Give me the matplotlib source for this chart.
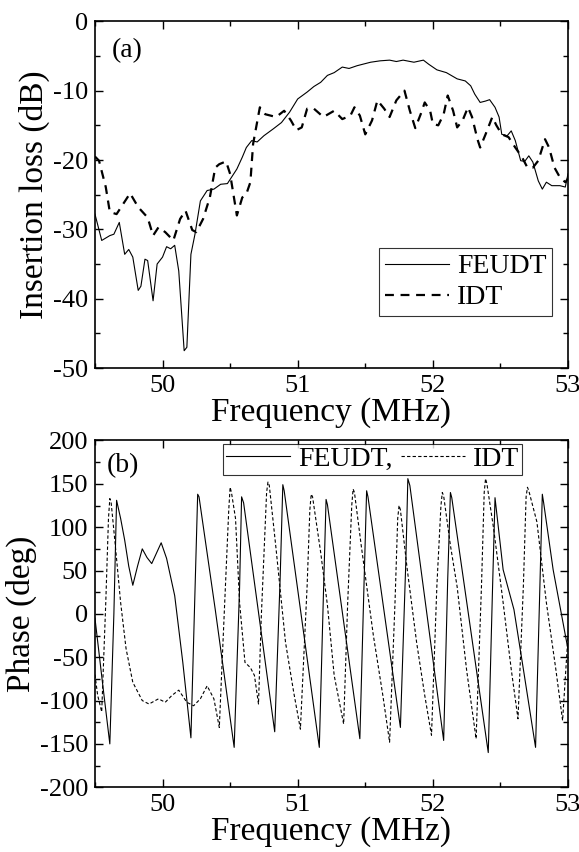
import matplotlib
matplotlib.use('Agg')
import matplotlib.pyplot as plt
from matplotlib import font_manager
from matplotlib.ticker import MultipleLocator

# pick a Times-like serif that is really installed
names = set(f.name for f in font_manager.fontManager.ttflist)
serif = 'DejaVu Serif'
for cand in ['Liberation Serif', 'Times New Roman', 'Nimbus Roman', 'TeX Gyre Termes', 'STIXGeneral']:
    if cand in names:
        serif = cand
        break
plt.rcParams['font.family'] = [serif, 'DejaVu Serif']
k = 0.86 if serif == 'DejaVu Serif' else 1.0

# (a) insertion loss, FEUDT (solid)
f_feudt = [49.5, 49.55, 49.61, 49.64, 49.68, 49.72, 49.75, 49.78, 49.82, 49.84, 49.87, 49.89,
           49.93, 49.96, 50.0, 50.03, 50.06, 50.09, 50.12, 50.16, 50.18, 50.21, 50.24, 50.28,
           50.33, 50.38, 50.43, 50.48, 50.51, 50.55, 50.59, 50.62, 50.66, 50.70, 50.75, 50.82,
           50.88, 50.94, 51.0, 51.07, 51.12, 51.17, 51.22, 51.27, 51.33, 51.38, 51.44, 51.54,
           51.61, 51.68, 51.73, 51.78, 51.86, 51.93, 51.97, 52.03, 52.10, 52.18, 52.24, 52.28,
           52.31, 52.35, 52.39, 52.42, 52.46, 52.49, 52.51, 52.55, 52.58, 52.61, 52.65, 52.68,
           52.71, 52.74, 52.78, 52.81, 52.84, 52.88, 52.94, 52.98, 53.0]
il_feudt = [-27.8, -31.6, -30.9, -30.7, -29.0, -33.6, -32.9, -34.0, -38.8, -38.2, -34.3, -34.5,
            -40.3, -35.0, -34.0, -32.5, -32.8, -32.3, -36.0, -47.5, -47.0, -33.6, -30.7, -25.9,
            -24.4, -24.2, -23.5, -23.4, -22.5, -21.3, -19.6, -18.2, -17.2, -17.4, -16.5, -15.5,
            -14.6, -13.1, -11.2, -10.2, -9.4, -8.8, -7.8, -7.4, -6.6, -6.8, -6.4, -5.9,
            -5.7, -5.6, -5.8, -5.6, -5.9, -5.6, -6.2, -7.0, -7.4, -8.3, -8.6, -9.3,
            -10.5, -11.7, -11.5, -11.3, -12.4, -13.8, -16.3, -16.5, -15.8, -17.2, -20.1, -20.2,
            -19.4, -20.3, -23.0, -24.2, -23.2, -23.7, -23.7, -23.9, -22.0]

# (a) insertion loss, IDT (dashed)
f_idt = [49.5, 49.53, 49.58, 49.61, 49.66, 49.71, 49.76, 49.82, 49.89, 49.93, 49.97, 50.02,
         50.08, 50.13, 50.17, 50.22, 50.25, 50.30, 50.35, 50.39, 50.42, 50.47, 50.50, 50.55,
         50.59, 50.62, 50.65, 50.67, 50.72, 50.76, 50.84, 50.90, 50.95, 50.99, 51.03, 51.07,
         51.12, 51.19, 51.27, 51.33, 51.39, 51.42, 51.46, 51.50, 51.55, 51.59, 51.64, 51.68,
         51.73, 51.79, 51.83, 51.87, 51.91, 51.94, 51.98, 52.0, 52.04, 52.08, 52.11, 52.15,
         52.18, 52.22, 52.26, 52.29, 52.33, 52.35, 52.39, 52.44, 52.47, 52.51, 52.56, 52.61,
         52.66, 52.70, 52.74, 52.78, 52.83, 52.86, 52.90, 52.94, 52.98, 53.0]
il_idt = [-19.5, -20.1, -23.9, -27.5, -27.8, -26.3, -24.8, -26.8, -28.3, -30.9, -29.7, -30.4,
          -31.6, -28.5, -27.3, -30.1, -30.4, -28.5, -25.4, -21.1, -20.6, -20.2, -22.0, -28.0,
          -25.4, -24.9, -23.2, -17.7, -12.4, -13.4, -13.8, -12.9, -14.3, -15.7, -15.3, -12.6,
          -12.6, -13.8, -12.9, -14.1, -13.6, -12.4, -13.6, -16.3, -14.3, -11.4, -12.6, -13.8,
          -11.4, -10.0, -12.9, -15.4, -13.4, -11.7, -12.9, -14.8, -15.0, -13.4, -10.7, -12.9,
          -15.3, -14.3, -12.4, -13.8, -17.0, -18.2, -16.3, -13.8, -15.0, -16.3, -16.7, -18.2,
          -19.6, -21.1, -21.1, -20.1, -17.0, -18.2, -21.1, -22.5, -23.2, -22.7]

# (b) phase, FEUDT (solid)
fp_feudt = [49.5, 49.56, 49.61, 49.64, 49.66, 49.69, 49.72, 49.75, 49.78, 49.815, 49.85, 49.885,
            49.92, 49.955, 49.99, 50.03, 50.09, 50.15, 50.21, 50.26, 50.27, 50.39, 50.53, 50.57,
            50.585, 50.60, 50.83, 50.87, 50.89, 50.90, 51.16, 51.19, 51.21, 51.22, 51.46, 51.49,
            51.51, 51.52, 51.76, 51.80, 51.815, 51.83, 52.08, 52.11, 52.13, 52.14, 52.41, 52.44,
            52.46, 52.47, 52.52, 52.60, 52.67, 52.76, 52.79, 52.81, 52.82, 52.89, 53.0]
ph_feudt = [-5, -85, -150, 0, 131, 110, 85, 55, 33, 55, 75, 65,
            58, 70, 82, 64, 21, -56, -143, 138, 135, 5, -154, 30,
            135, 128, -136, 40, 149, 142, -154, 20, 132, 126, -144, 30,
            142, 135, -131, 60, 156, 148, -146, 40, 140, 134, -160, 20,
            134, 120, 51, 5, -64, -154, 20, 138, 128, 51, -41]

# (b) phase, IDT (dashed)
fp_idt = [49.5, 49.52, 49.55, 49.58, 49.60, 49.61, 49.62, 49.65, 49.69, 49.73, 49.78, 49.85,
          49.90, 49.97, 50.02, 50.07, 50.12, 50.18, 50.23, 50.28, 50.33, 50.38, 50.42, 50.46,
          50.49, 50.50, 50.51, 50.54, 50.57, 50.61, 50.65, 50.68, 50.71, 50.73, 50.77, 50.78,
          50.79, 50.84, 50.91, 50.97, 51.02, 51.07, 51.09, 51.10, 51.11, 51.17, 51.22, 51.27,
          51.34, 51.37, 51.40, 51.41, 51.42, 51.47, 51.56, 51.63, 51.68, 51.72, 51.74, 51.75,
          51.76, 51.81, 51.88, 51.94, 51.99, 52.03, 52.06, 52.07, 52.08, 52.13, 52.18, 52.25,
          52.32, 52.36, 52.38, 52.39, 52.40, 52.45, 52.52, 52.58, 52.63, 52.67, 52.69, 52.70,
          52.71, 52.77, 52.84, 52.91, 52.96, 53.0]
ph_idt = [-70, -94, -113, 13, 110, 133, 128, 80, 13, -40, -79, -100,
          -104, -98, -102, -94, -88, -102, -106, -98, -83, -98, -131, 13,
          120, 146, 140, 110, 13, -56, -62, -71, -104, -6, 140, 152,
          148, 75, -33, -90, -133, 33, 120, 138, 135, 71, 10, -71,
          -127, 13, 125, 144, 140, 79, -25, -94, -148, 13, 110, 125,
          120, 52, -33, -94, -140, 33, 125, 140, 136, 79, 31, -65,
          -144, 33, 140, 156, 150, 98, 13, -64, -121, 33, 135, 146,
          142, 106, 13, -64, -123, -25]

fig = plt.figure(figsize=(5.79, 8.52), dpi=100)
ax1 = fig.add_axes([0.164, 0.568, 0.817, 0.407])
ax2 = fig.add_axes([0.164, 0.076, 0.817, 0.407])

ax1.plot(f_feudt, il_feudt, 'k-', lw=0.8, label='FEUDT')
ax1.plot(f_idt, il_idt, 'k--', lw=1.6, dashes=(4, 3), label='IDT')
ax1.set_xlim(49.5, 53)
ax1.set_ylim(-50, 0)
ax1.yaxis.set_major_locator(MultipleLocator(10))
ax1.yaxis.set_minor_locator(MultipleLocator(5))
ax1.set_ylabel('Insertion loss (dB)', fontsize=24 * k, labelpad=2)
ax1.set_xlabel('Frequency (MHz)', fontsize=24 * k, labelpad=0)
ax1.text(0.035, 0.915, '(a)', transform=ax1.transAxes, fontsize=20 * k, va='center')
leg1 = ax1.legend(loc='lower right', bbox_to_anchor=(0.966, 0.15), fontsize=20 * k,
                  frameon=True, fancybox=False, edgecolor='k', borderaxespad=0,
                  handlelength=2.3, handletextpad=0.3, borderpad=0.2, labelspacing=0.2)
leg1.get_frame().set_linewidth(0.8)

ax2.plot(fp_feudt, ph_feudt, 'k-', lw=0.8, label='FEUDT,')
ax2.plot(fp_idt, ph_idt, 'k--', lw=0.8, dashes=(3, 2), label='IDT')
ax2.set_xlim(49.5, 53)
ax2.set_ylim(-200, 200)
ax2.yaxis.set_major_locator(MultipleLocator(50))
ax2.yaxis.set_minor_locator(MultipleLocator(25))
ax2.set_ylabel('Phase (deg)', fontsize=24 * k, labelpad=2)
ax2.set_xlabel('Frequency (MHz)', fontsize=24 * k, labelpad=0)
ax2.text(0.025, 0.928, '(b)', transform=ax2.transAxes, fontsize=20 * k, va='center')
leg2 = ax2.legend(loc='upper right', bbox_to_anchor=(0.903, 0.991), fontsize=20 * k, ncol=2,
                  frameon=True, fancybox=False, edgecolor='k', borderaxespad=0,
                  handlelength=2.3, handletextpad=0.3, borderpad=0.1, columnspacing=0.3)
leg2.get_frame().set_linewidth(0.8)

for ax in (ax1, ax2):
    ax.xaxis.set_major_locator(MultipleLocator(1))
    ax.xaxis.set_minor_locator(MultipleLocator(0.5))
    ax.tick_params(which='both', direction='in', top=True, right=True, labelsize=19 * k, pad=5)
    ax.tick_params(which='major', length=6, width=1)
    ax.tick_params(which='minor', length=3.5, width=1)
    for s in ax.spines.values():
        s.set_linewidth(1.2)
    ax.set_yticklabels([str(int(v)) for v in ax.get_yticks()])

fig.savefig('out.png', dpi=100)
